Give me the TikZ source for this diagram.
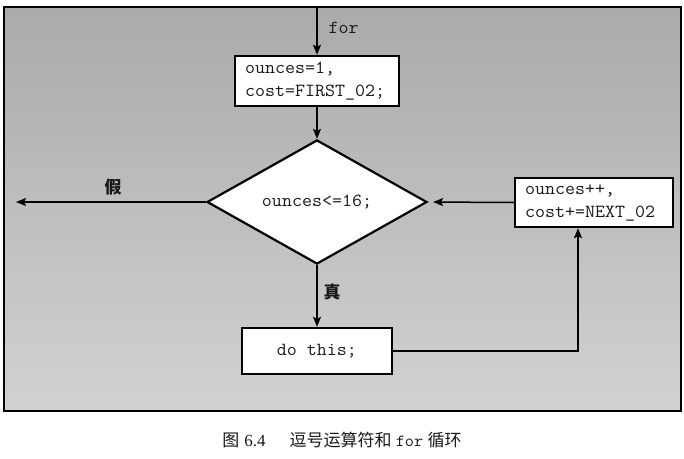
\documentclass[tikz,border=0pt]{standalone}
\usepackage{fontspec}
\setmainfont{Liberation Serif}
\newfontfamily\cour{Latin Modern Mono}[FakeStretch=1.05]
\newfontfamily\cjk{Noto Sans CJK SC}
\usetikzlibrary{shapes.geometric,arrows.meta}
\definecolor{bgtop}{RGB}{170,170,170}
\definecolor{bgbot}{RGB}{210,210,210}
\definecolor{ink}{RGB}{25,25,25}
\tikzset{
  box/.style={draw=black, fill=white, line width=2.4pt, inner xsep=10pt, inner ysep=0pt,
              font=\cour\fontsize{18.5}{23}\selectfont, text=ink},
  decision/.style={diamond, draw=black, fill=white, line width=2.2pt, inner sep=0pt,
              minimum width=220pt, minimum height=113pt, font=\cour\fontsize{18.5}{20}\selectfont, text=ink},
  arr/.style={draw=black, line width=1.5pt, -{Stealth[length=10pt,width=8pt,inset=2pt]}},
  lbl/.style={font=\cjk\bfseries\fontsize{17}{20}\selectfont, text=ink},
  monolbl/.style={font=\cour\fontsize{18.5}{20}\selectfont, text=ink}
}
\begin{document}
\begin{tikzpicture}[x=1pt,y=-1pt]
\useasboundingbox (0,0) rectangle (684,458);
\fill[white] (0,0) rectangle (684,458);
\shade[top color=bgtop, bottom color=bgbot] (4,7) rectangle (681,411);
\draw[line width=2.2pt] (4,7) rectangle (681,411);

\node[box, minimum width=164pt, minimum height=50pt, text width=144pt, align=left] (init) at (317,81)
  {ounces=1,\\cost=FIRST\_02;};
\node[decision] (test) at (317,202) {ounces<=16;};
\node[box, minimum width=158pt, minimum height=49pt, text width=138pt, align=left] (upd) at (594,202.5)
  {ounces++,\\cost+=NEXT\_02};
\node[box, minimum width=150pt, minimum height=46pt, align=center] (body) at (317,351) {do this;};

\coordinate (start) at (317,8);
\coordinate (exitend) at (16,202);
\coordinate (corner) at (578,351);

\draw[arr] (start) -- (init.north);
\node[monolbl, anchor=west] (forlbl) at (325,28) {for};
\draw[arr] (init.south) -- (test.north);
\draw[arr] (test.west) -- (exitend);
\node[lbl] (flbl) at (113,187) {假};
\draw[arr, shorten >=5pt] (upd.west) -- (test.east);
\draw[arr] (test.south) -- (body.north);
\node[lbl] (tlbl) at (332,292) {真};
\draw[arr] (body.east) -- (corner) -- (corner |- upd.south);

\node[font=\fontsize{17}{20}\selectfont, text=ink] (cap) at (342,440)
  {{\cjk 图}\hspace{0.3em}6.4\hspace{1.4em}{\cjk 逗号运算符和}\ {\cour for}\ {\cjk 循环}};
\end{tikzpicture}
\end{document}
